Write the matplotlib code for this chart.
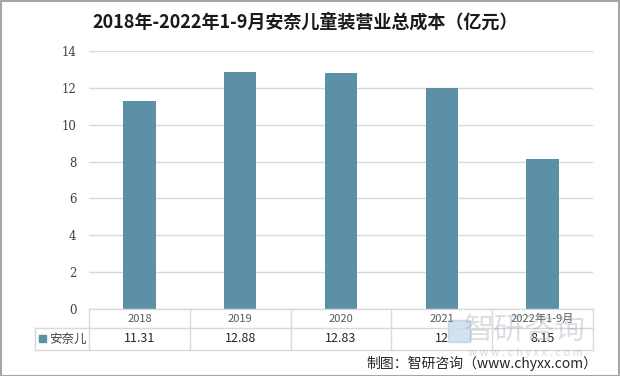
import matplotlib
matplotlib.use("Agg")
import matplotlib.pyplot as plt
from matplotlib.transforms import blended_transform_factory
from matplotlib.lines import Line2D
from matplotlib.patches import Rectangle

plt.rcParams['font.family'] = ['Noto Sans CJK SC', 'DejaVu Sans']

title = "2018年-2022年1-9月安奈儿童装营业总成本（亿元）"
categories = ["2018", "2019", "2020", "2021", "2022年1-9月"]
values = [11.31, 12.88, 12.83, 12, 8.15]
value_labels = ["11.31", "12.88", "12.83", "12", "8.15"]
series_name = "安奈儿"
yticks = [0, 2, 4, 6, 8, 10, 12, 14]
source = "制图：智研咨询（www.chyxx.com）"

W, H = 620, 376
fig = plt.figure(figsize=(W / 100, H / 100), dpi=100)
fig.patch.set_facecolor("white")

def fx(px):
    return px / W

def fy(py):
    return 1 - py / H

ax_l, ax_r, ax_t, ax_b = 89, 593, 51, 309
ax = fig.add_axes([fx(ax_l), fy(ax_b), fx(ax_r - ax_l), (ax_b - ax_t) / H])
x = list(range(len(categories)))
bar_color = "#5b90a7"
ax.bar(x, values, width=0.32, color=bar_color, zorder=3)
ax.set_xlim(-0.5, len(categories) - 0.5)
ax.set_ylim(0, 14)
ax.set_yticks(yticks)
ax.set_yticklabels([str(t) for t in yticks], fontsize=8.5, color="#404040",
                   family=['DejaVu Serif'])
ax.tick_params(axis='y', length=0, pad=9)
ax.set_xticks([])
for s in ax.spines.values():
    s.set_visible(False)
ax.yaxis.grid(True, color="#d9d9d9", linewidth=1, zorder=0)
ax.set_axisbelow(True)

# table below the axes
line_c = "#d9d9d9"
y_top, y_mid, y_bot = 309, 328, 350
leg_l = 35
bounds_px = [ax_l + i * (ax_r - ax_l) / len(categories) for i in range(len(categories) + 1)]
def hline(x0, x1, y):
    fig.add_artist(Line2D([fx(x0), fx(x1)], [fy(y), fy(y)], color=line_c, lw=1))
def vline(xp, y0, y1):
    fig.add_artist(Line2D([fx(xp), fx(xp)], [fy(y0), fy(y1)], color=line_c, lw=1))
hline(ax_l, ax_r, y_top)
hline(leg_l, ax_r, y_mid)
hline(leg_l, ax_r, y_bot)
for b in bounds_px:
    vline(b, y_top, y_bot)
vline(leg_l, y_mid, y_bot)

tr = blended_transform_factory(ax.transData, fig.transFigure)
for xi, cat, lab in zip(x, categories, value_labels):
    ax.text(xi, fy((y_top + y_mid) / 2), cat, transform=tr, ha="center", va="center",
            fontsize=8, color="#595959", clip_on=False)
    ax.text(xi, fy((y_mid + y_bot) / 2), lab, transform=tr, ha="center", va="center",
            fontsize=9, color="#262626", clip_on=False)

# legend key in table
fig.add_artist(Rectangle((fx(39), fy(342)), fx(7), 7 / H, color=bar_color))
fig.text(fx(49), fy((y_mid + y_bot) / 2), series_name, ha="left", va="center",
         fontsize=9, color="#404040")

# title
fig.text(fx(305), fy(22), title, ha="center", va="center", fontsize=13,
         fontweight="bold", color="#1a1a1a")

# watermark
fig.text(fx(525), fy(330), "智研咨询", ha="center", va="center", fontsize=22,
         color="#9aa3ad", alpha=0.35)
fig.text(fx(525), fy(353), "w w w . c h y x x . c o m", ha="center", va="center",
         fontsize=8, color="#9aa3ad", alpha=0.4)
fig.add_artist(Rectangle((fx(448), fy(342)), fx(22), 22 / H, color="#6f9fd0", alpha=0.3))

# source
fig.text(fx(597), fy(363), source, ha="right", va="center", fontsize=10,
         color="#262626")

# frame
fig.add_artist(Rectangle((0.5 / W, 0.5 / H), 1 - 1.5 / W, 1 - 1.5 / H, fill=False,
                         edgecolor="#a6a6a6", lw=1.5))

fig.savefig("out.png", dpi=100, facecolor="white")
